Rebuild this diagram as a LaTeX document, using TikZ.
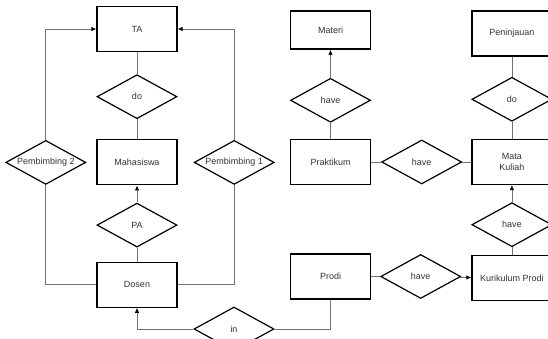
\documentclass[tikz,border=0pt]{standalone}
\usepackage{fontspec}
\setmainfont{Liberation Sans}
\usetikzlibrary{positioning,shapes.geometric,arrows.meta}

\tikzset{
  entity/.style={rectangle, draw=black, line width=1.2pt, minimum width=80pt, minimum height=45pt, align=center, inner sep=1pt},
  rel/.style={diamond, draw=black, line width=1.2pt, minimum width=80pt, minimum height=44pt, aspect=1.8, inner sep=0pt},
  link/.style={draw=black!55, line width=0.8pt},
  arr/.style={link, -{Latex[length=5pt,width=4.5pt,color=black]}}
}

\begin{document}
\begin{tikzpicture}[x=1pt, y=1pt, font=\fontsize{9}{10.5}\selectfont, text=black!80]
    \useasboundingbox (0,0) rectangle (548,339);
    % Left column: TA / Mahasiswa / Dosen
    \node[entity] (ta) at (137,310) {TA};
    \node[rel, below=22pt of ta] (do1) {do};
    \node[entity, below=20pt of do1] (mhs) {Mahasiswa};
    \node[rel, below=17pt of mhs] (pa) {PA};
    \node[entity, below=14pt of pa] (dosen) {Dosen};
    \node[rel, left=10pt of mhs] (pemb2) {Pembimbing 2};
    \node[rel, right=16pt of mhs] (pemb1) {Pembimbing 1};
    \node[rel] (in) at (234,10) {in};
    % Praktikum / Materi
    \node[entity] (prakt) at (330.5,177) {Praktikum};
    \node[rel, above=16pt of prakt] (have1) {have};
    \node[entity, minimum height=38pt, above=28pt of have1] (materi) {Materi};
    % Mata Kuliah / Peninjauan
    \node[rel, right=10pt of prakt] (have2) {have};
    \node[entity, right=9pt of have2] (mk) {Mata\\Kuliah};
    \node[rel, above=17pt of mk] (do2) {do};
    \node[entity, above=20pt of do2] (peninjauan) {Peninjauan};
    % Prodi / Kurikulum Prodi
    \node[rel, below=17pt of mk] (have3) {have};
    \node[entity, below=8pt of have3] (kurikulum) {Kurikulum Prodi};
    \node[entity] (prodi) at (330.5,62.5) {Prodi};
    \node[rel, right=9pt of prodi] (have4) {have};
    % Lines
    \draw[link] (ta) -- (do1);
    \draw[link] (do1) -- (mhs);
    \draw[arr] (pa) -- (mhs);
    \draw[link] (dosen) -- (pa);
    \draw[link] (dosen.west) -| (pemb2.south);
    \draw[arr] (pemb2.north) |- (ta.west);
    \draw[link] (dosen.east) -| (pemb1.south);
    \draw[arr] (pemb1.north) |- (ta.east);
    \draw[arr] (in.west) -| (dosen.south);
    \draw[link] (in.east) -| (prodi.south);
    \draw[arr] (have1) -- (materi);
    \draw[link] (prakt) -- (have1);
    \draw[link] (prakt) -- (have2);
    \draw[link] (have2) -- (mk);
    \draw[link] (peninjauan) -- (do2);
    \draw[link] (do2) -- (mk);
    \draw[arr] (have3) -- (mk);
    \draw[link] (kurikulum) -- (have3);
    \draw[link] (prodi) -- (have4);
    \draw[arr] (have4) -- (kurikulum);
\end{tikzpicture}
\end{document}
